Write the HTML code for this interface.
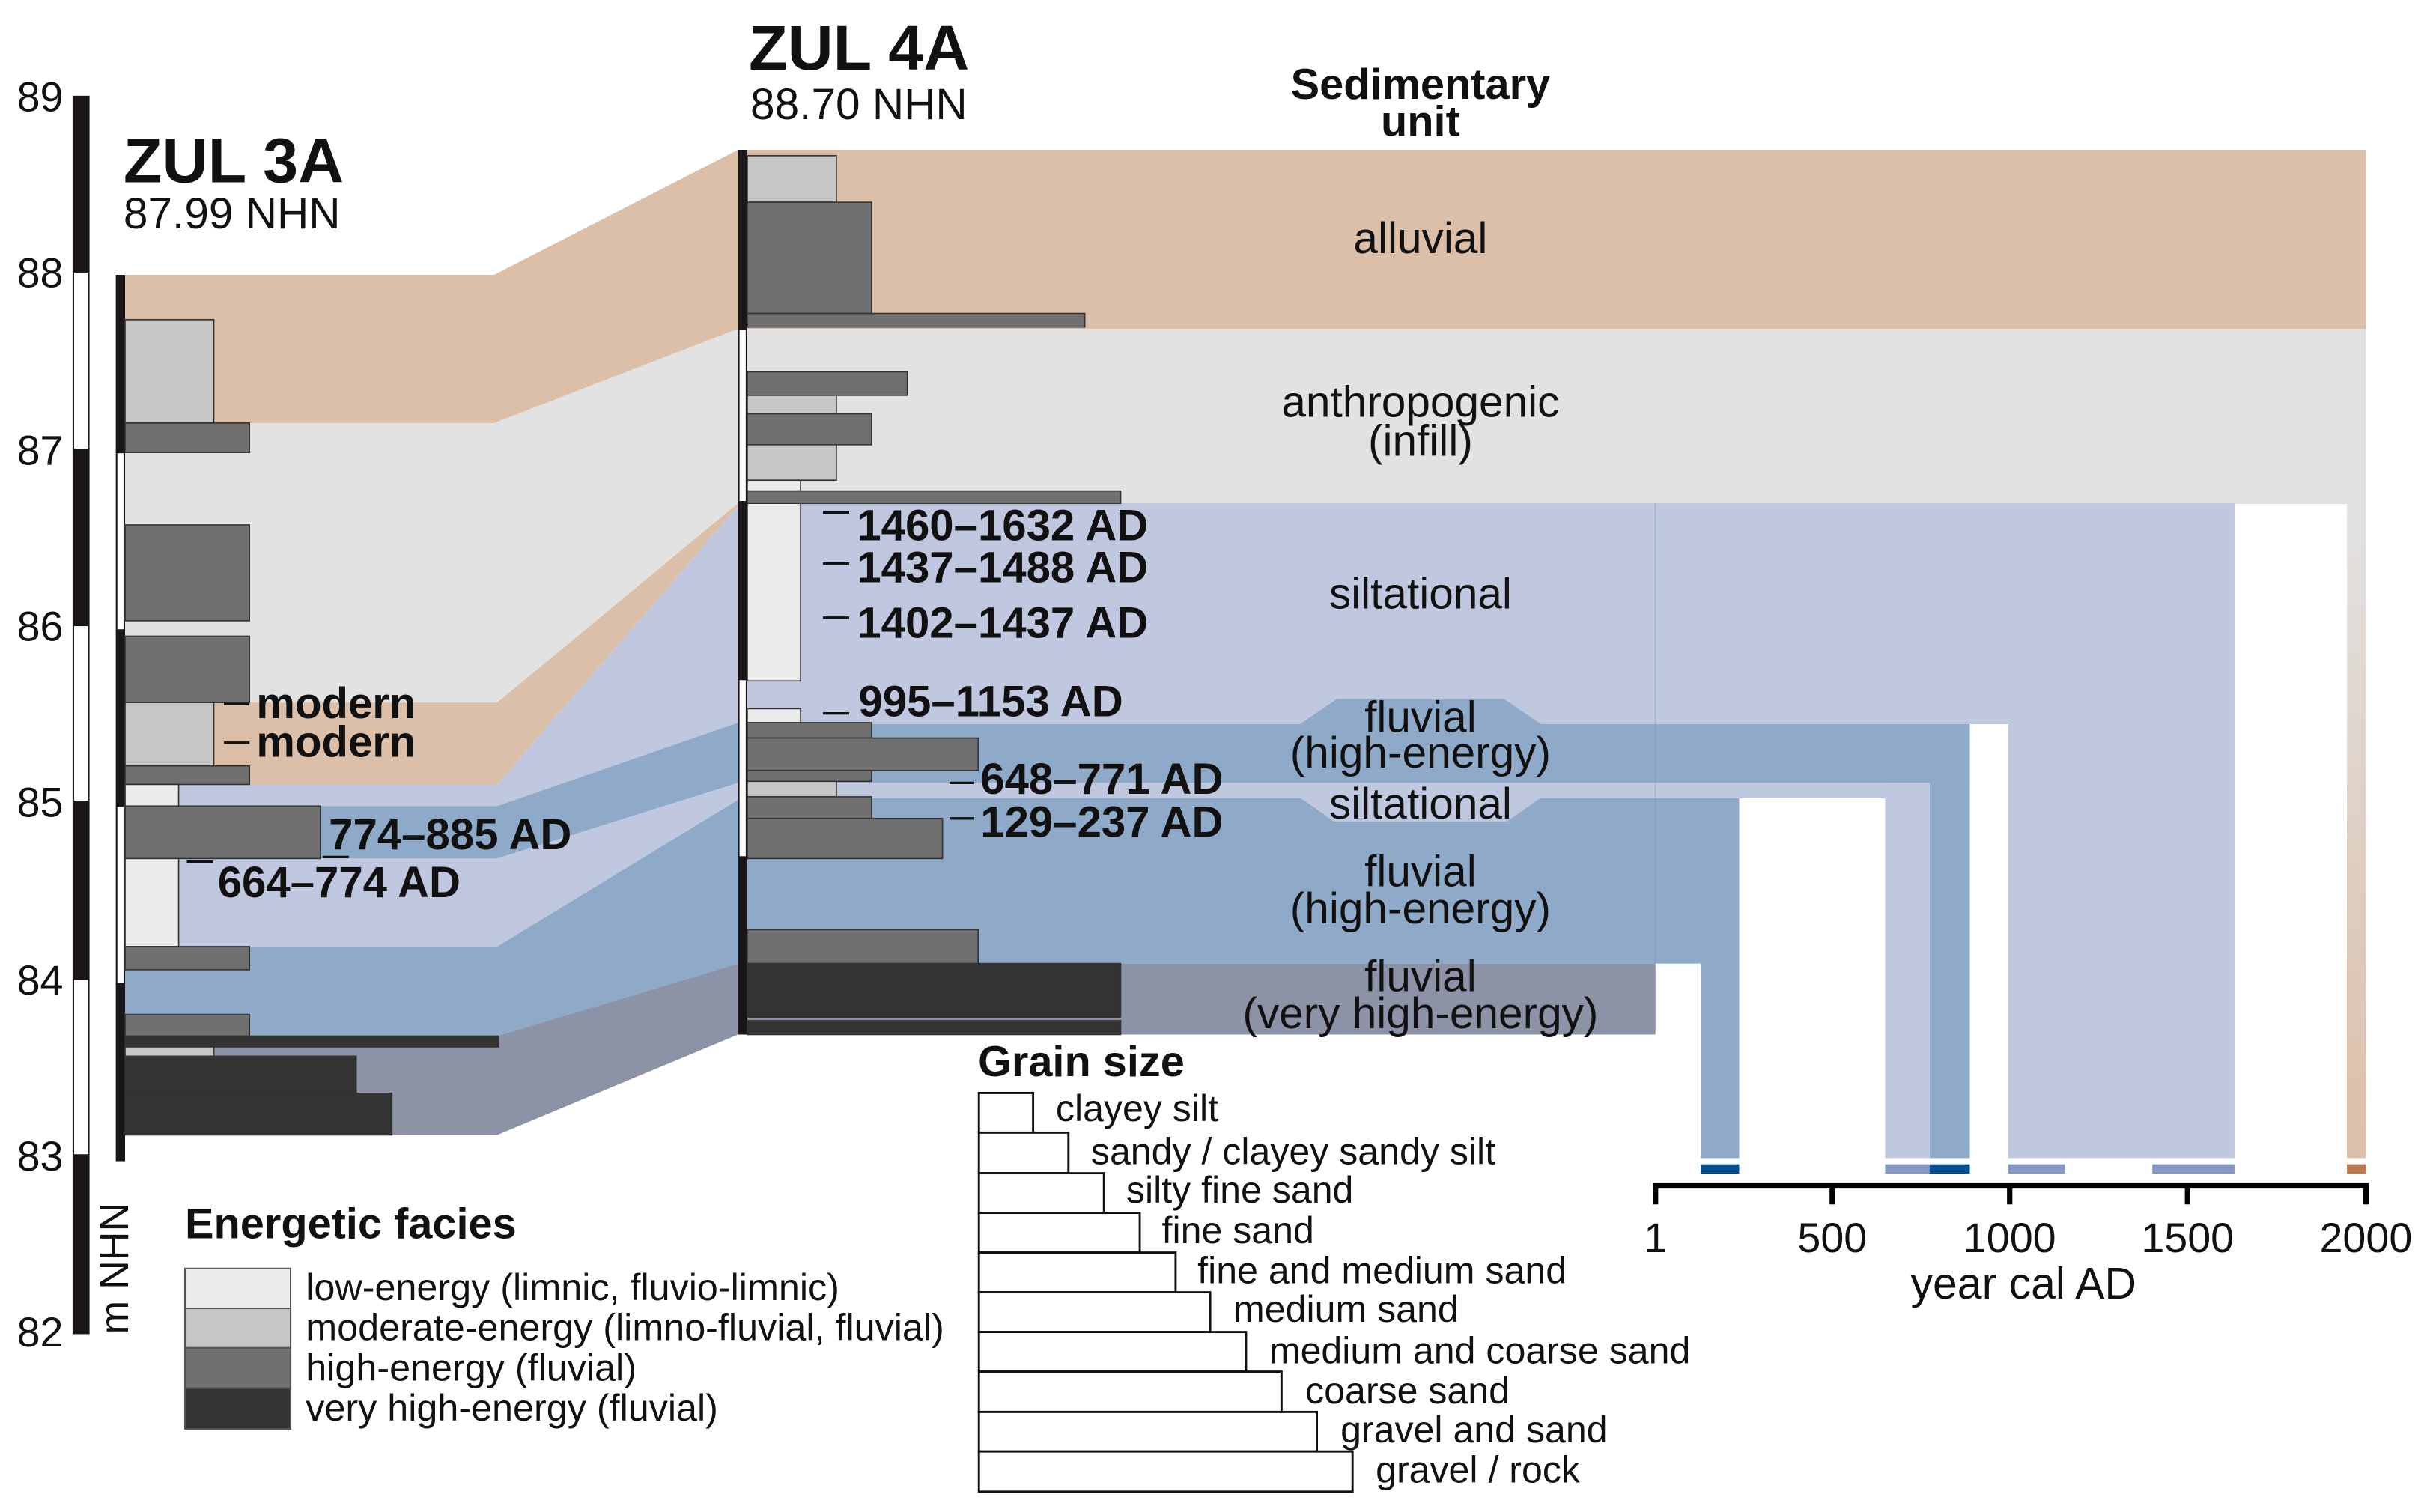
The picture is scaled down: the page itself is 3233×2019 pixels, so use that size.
<!DOCTYPE html>
<html><head><meta charset="utf-8"><style>
html,body{margin:0;padding:0;background:#fff}
svg{display:block}
text{font-family:"Liberation Sans",Arial,sans-serif;fill:#111}
.b{font-weight:bold}
</style></head><body>
<svg width="3233" height="2019" viewBox="0 0 1568 979.2" preserveAspectRatio="none" xmlns="http://www.w3.org/2000/svg">
<defs>
<linearGradient id="g1" x1="0" y1="0" x2="0" y2="1">
<stop offset="0" stop-color="#e2e2e2"/><stop offset="1" stop-color="#dcbfa8"/>
</linearGradient>
</defs>
<polygon fill="#dcbfa9" points="81,178 320,178 478,97 478,213 320,274 81,274"/>
<polygon fill="#e2e2e2" points="81,274 320,274 478,213 478,326 322,455 81,455"/>
<polygon fill="#dcbfa9" points="81,455 322,455 478,326 478,328 322,508 81,508"/>
<polygon fill="#c0c8e0" points="81,508 322,508 478,328 478,468 322,522 81,522"/>
<polygon fill="#8eaac8" points="81,522 322,522 478,468 478,507 322,556 81,556"/>
<polygon fill="#c0c8e0" points="81,556 322,556 478,507 478,518 322,613 81,613"/>
<polygon fill="#8eaac8" points="81,613 322,613 478,518 478,624 322,671 81,671"/>
<polygon fill="#8c93a6" points="81,671 322,671 478,624 478,670 322,735 81,735"/>
<rect x="478" y="97" width="1054.3" height="116" fill="#dcbfa9"/>
<rect x="478" y="213" width="1054.3" height="113.4" fill="#e2e2e2"/>
<rect x="1520" y="326" width="12.3" height="424" fill="url(#g1)"/>
<rect x="478" y="326" width="969.2" height="143" fill="#c0c8e0"/>
<rect x="1300.6" y="468" width="146.6" height="282" fill="#c0c8e0"/>
<rect x="478" y="469" width="797.8" height="38" fill="#8eaac8"/>
<rect x="1249.7" y="469" width="26.1" height="281" fill="#8eaac8"/>
<polygon fill="#8eaac8" points="842,469 866,452.6 974,452.6 998,469"/>
<rect x="478" y="507" width="771.7" height="10" fill="#c0c8e0"/>
<rect x="1220.9" y="507" width="28.8" height="243" fill="#c0c8e0"/>
<rect x="478" y="517" width="648.4" height="107" fill="#8eaac8"/>
<rect x="1101.6" y="517" width="24.8" height="233" fill="#8eaac8"/>
<polygon fill="#c0c8e0" points="842,516.5 864,532 976,532 998,516.5"/>
<rect x="478" y="624" width="594.2" height="46" fill="#8c93a6"/>
<line x1="1072.2" y1="326" x2="1072.2" y2="624" stroke="#7f94b8" stroke-width="0.6" opacity="0.5"/>
<rect x="1101.6" y="754" width="24.8" height="6" fill="#005091"/>
<rect x="1220.9" y="754" width="28.8" height="6" fill="#8496c4"/>
<rect x="1249.7" y="754" width="26.1" height="6" fill="#005091"/>
<rect x="1300.6" y="754" width="36.8" height="6" fill="#8496c4"/>
<rect x="1394" y="754" width="53.2" height="6" fill="#8496c4"/>
<rect x="1520" y="754" width="12.3" height="6" fill="#b87a4e"/>
<g stroke="#000" stroke-width="3.5" fill="none">
<line x1="1070.5" y1="768" x2="1534" y2="768"/>
<line x1="1072.2" y1="768" x2="1072.2" y2="780"/>
<line x1="1186.7" y1="768" x2="1186.7" y2="780"/>
<line x1="1301.6" y1="768" x2="1301.6" y2="780"/>
<line x1="1416.8" y1="768" x2="1416.8" y2="780"/>
<line x1="1532.3" y1="768" x2="1532.3" y2="780"/>
</g>
<g font-size="27" text-anchor="middle">
<text x="1072.2" y="811">1</text>
<text x="1186.7" y="811">500</text>
<text x="1301.6" y="811">1000</text>
<text x="1416.8" y="811">1500</text>
<text x="1532.3" y="811">2000</text>
<text x="1310.6" y="841" font-size="28.6">year cal AD</text>
</g>
<rect x="47" y="62" width="11" height="114" fill="#1a1618"/>
<rect x="47.5" y="176" width="10" height="115" fill="#fff" stroke="#1a1618" stroke-width="1"/>
<rect x="47" y="291" width="11" height="114" fill="#1a1618"/>
<rect x="47.5" y="405" width="10" height="114" fill="#fff" stroke="#1a1618" stroke-width="1"/>
<rect x="47" y="519" width="11" height="115" fill="#1a1618"/>
<rect x="47.5" y="634" width="10" height="114" fill="#fff" stroke="#1a1618" stroke-width="1"/>
<rect x="47" y="748" width="11" height="116" fill="#1a1618"/>
<g font-size="27" text-anchor="end">
<text x="41" y="72">89</text>
<text x="41" y="186">88</text>
<text x="41" y="301">87</text>
<text x="41" y="415">86</text>
<text x="41" y="529">85</text>
<text x="41" y="644">84</text>
<text x="41" y="758">83</text>
<text x="41" y="872">82</text>
</g>
<text font-size="26" transform="translate(83,864) rotate(-90)">m NHN</text>
<rect x="75" y="178" width="6" height="115" fill="#1a1618"/>
<rect x="75.5" y="293" width="5" height="115" fill="#fff" stroke="#1a1618" stroke-width="1"/>
<rect x="75" y="408" width="6" height="114" fill="#1a1618"/>
<rect x="75.5" y="522" width="5" height="115" fill="#fff" stroke="#1a1618" stroke-width="1"/>
<rect x="75" y="637" width="6" height="115" fill="#1a1618"/>
<g stroke="#333" stroke-width="0.8">
<rect x="81" y="207" width="57.5" height="67" fill="#c6c6c6"/>
<rect x="81" y="274" width="80.6" height="19" fill="#707070"/>
<rect x="81" y="340" width="80.6" height="62" fill="#707070"/>
<rect x="81" y="412" width="80.6" height="43" fill="#707070"/>
<rect x="81" y="455" width="57.5" height="41" fill="#c6c6c6"/>
<rect x="81" y="496" width="80.6" height="12" fill="#707070"/>
<rect x="81" y="508" width="34.7" height="14" fill="#ebebeb"/>
<rect x="81" y="522" width="126.5" height="34" fill="#707070"/>
<rect x="81" y="556" width="34.7" height="57" fill="#ebebeb"/>
<rect x="81" y="613" width="80.6" height="15" fill="#707070"/>
<rect x="81" y="657" width="80.6" height="14" fill="#707070"/>
<rect x="81" y="671" width="241.6" height="7" fill="#333"/>
<rect x="81" y="678" width="57.5" height="6" fill="#c6c6c6"/>
<rect x="81" y="684" width="149.7" height="24" fill="#333"/>
<rect x="81" y="708" width="172.8" height="27" fill="#333"/>
</g>
<rect x="478" y="97" width="6" height="116" fill="#1a1618"/>
<rect x="478.5" y="213" width="5" height="112" fill="#fff" stroke="#1a1618" stroke-width="1"/>
<rect x="478" y="325" width="6" height="115" fill="#1a1618"/>
<rect x="478.5" y="440" width="5" height="115" fill="#fff" stroke="#1a1618" stroke-width="1"/>
<rect x="478" y="555" width="6" height="115" fill="#1a1618"/>
<g stroke="#333" stroke-width="0.8">
<rect x="484" y="100.8" width="57.7" height="30.2" fill="#c6c6c6"/>
<rect x="484" y="131" width="80.5" height="72" fill="#707070"/>
<rect x="484" y="203" width="218.6" height="8.8" fill="#707070"/>
<rect x="484" y="240.8" width="103.6" height="15.2" fill="#707070"/>
<rect x="484" y="256" width="57.7" height="12" fill="#c6c6c6"/>
<rect x="484" y="268" width="80.5" height="20" fill="#707070"/>
<rect x="484" y="288" width="57.7" height="23" fill="#c6c6c6"/>
<rect x="484" y="311" width="34.5" height="7" fill="#ebebeb"/>
<rect x="484" y="318" width="241.8" height="8" fill="#707070"/>
<rect x="484" y="326" width="34.5" height="115" fill="#ebebeb"/>
<rect x="484" y="459" width="34.5" height="9" fill="#ebebeb"/>
<rect x="484" y="468" width="80.5" height="10" fill="#707070"/>
<rect x="484" y="478" width="149.5" height="21" fill="#707070"/>
<rect x="484" y="499" width="80.5" height="7" fill="#707070"/>
<rect x="484" y="506" width="57.7" height="10" fill="#c6c6c6"/>
<rect x="484" y="516" width="80.5" height="14" fill="#707070"/>
<rect x="484" y="530" width="126.4" height="26" fill="#707070"/>
<rect x="484" y="602" width="149.5" height="22" fill="#707070"/>
<rect x="484" y="624" width="241.8" height="35" fill="#333"/>
<rect x="484" y="661" width="241.8" height="9" fill="#333"/>
</g>
<g stroke="#111" stroke-width="1.6">
<line x1="145" y1="456" x2="161.6" y2="456"/>
<line x1="145" y1="481" x2="161.6" y2="481"/>
<line x1="209" y1="555" x2="226" y2="555"/>
<line x1="121" y1="558" x2="138" y2="558"/>
<line x1="533" y1="332" x2="550" y2="332"/>
<line x1="533" y1="365" x2="550" y2="365"/>
<line x1="533" y1="400" x2="550" y2="400"/>
<line x1="533" y1="462" x2="550" y2="462"/>
<line x1="615" y1="507" x2="631" y2="507"/>
<line x1="615" y1="530" x2="631" y2="530"/>
</g>
<g class="b" font-size="28.2" font-weight="bold">
<text x="166" y="465">modern</text>
<text x="166" y="490">modern</text>
<text x="213" y="550">774–885 AD</text>
<text x="141" y="581">664–774 AD</text>
<text x="555" y="350">1460–1632 AD</text>
<text x="555" y="377">1437–1488 AD</text>
<text x="555" y="413">1402–1437 AD</text>
<text x="556" y="464">995–1153 AD</text>
<text x="635" y="514">648–771 AD</text>
<text x="635" y="542">129–237 AD</text>
</g>
<text x="80" y="118" font-size="41" font-weight="bold">ZUL 3A</text>
<text x="80" y="148" font-size="28.4">87.99 NHN</text>
<text x="485" y="45" font-size="41" font-weight="bold">ZUL 4A</text>
<text x="486" y="77" font-size="28.4">88.70 NHN</text>
<g font-size="28" font-weight="bold" text-anchor="middle">
<text x="920" y="64">Sedimentary</text>
<text x="920" y="88">unit</text>
</g>
<g font-size="28.4" text-anchor="middle">
<text x="920" y="164">alluvial</text>
<text x="920" y="270">anthropogenic</text>
<text x="920" y="295">(infill)</text>
<text x="920" y="394">siltational</text>
<text x="920" y="474">fluvial</text>
<text x="920" y="497">(high-energy)</text>
<text x="920" y="530">siltational</text>
<text x="920" y="574">fluvial</text>
<text x="920" y="598">(high-energy)</text>
<text x="920" y="642">fluvial</text>
<text x="920" y="666">(very high-energy)</text>
</g>
<text x="119.8" y="802" font-size="28" font-weight="bold">Energetic facies</text>
<g stroke="#555" stroke-width="1">
<rect x="119.8" y="821.5" width="68.4" height="25.8" fill="#ebebeb"/>
<rect x="119.8" y="847.3" width="68.4" height="25.6" fill="#c6c6c6"/>
<rect x="119.8" y="872.9" width="68.4" height="26.1" fill="#707070"/>
<rect x="119.8" y="899" width="68.4" height="26.4" fill="#333"/>
</g>
<g font-size="24.4">
<text x="198" y="842">low-energy (limnic, fluvio-limnic)</text>
<text x="198" y="868">moderate-energy (limno-fluvial, fluvial)</text>
<text x="198" y="894">high-energy (fluvial)</text>
<text x="198" y="920">very high-energy (fluvial)</text>
</g>
<text x="633.4" y="697" font-size="28" font-weight="bold">Grain size</text>
<g stroke="#111" stroke-width="1.4" fill="#fff">
<rect x="634" y="707.8" width="35.1" height="25.7"/>
<rect x="634" y="733.5" width="58" height="26.3"/>
<rect x="634" y="759.8" width="81" height="25.7"/>
<rect x="634" y="785.5" width="104.2" height="25.7"/>
<rect x="634" y="811.2" width="127.4" height="25.7"/>
<rect x="634" y="836.9" width="149.8" height="25.7"/>
<rect x="634" y="862.6" width="173" height="25.7"/>
<rect x="634" y="888.3" width="196" height="26.1"/>
<rect x="634" y="914.4" width="218.9" height="25.6"/>
<rect x="634" y="940" width="242" height="26"/>
</g>
<g font-size="24.3">
<text x="683.8" y="726">clayey silt</text>
<text x="706.6" y="754">sandy / clayey sandy silt</text>
<text x="729.4" y="779">silty fine sand</text>
<text x="752.5" y="805">fine sand</text>
<text x="775.6" y="831">fine and medium sand</text>
<text x="798.8" y="856">medium sand</text>
<text x="822" y="883">medium and coarse sand</text>
<text x="845.4" y="909">coarse sand</text>
<text x="868.2" y="934">gravel and sand</text>
<text x="891" y="960">gravel / rock</text>
</g>
</svg>
</body></html>
